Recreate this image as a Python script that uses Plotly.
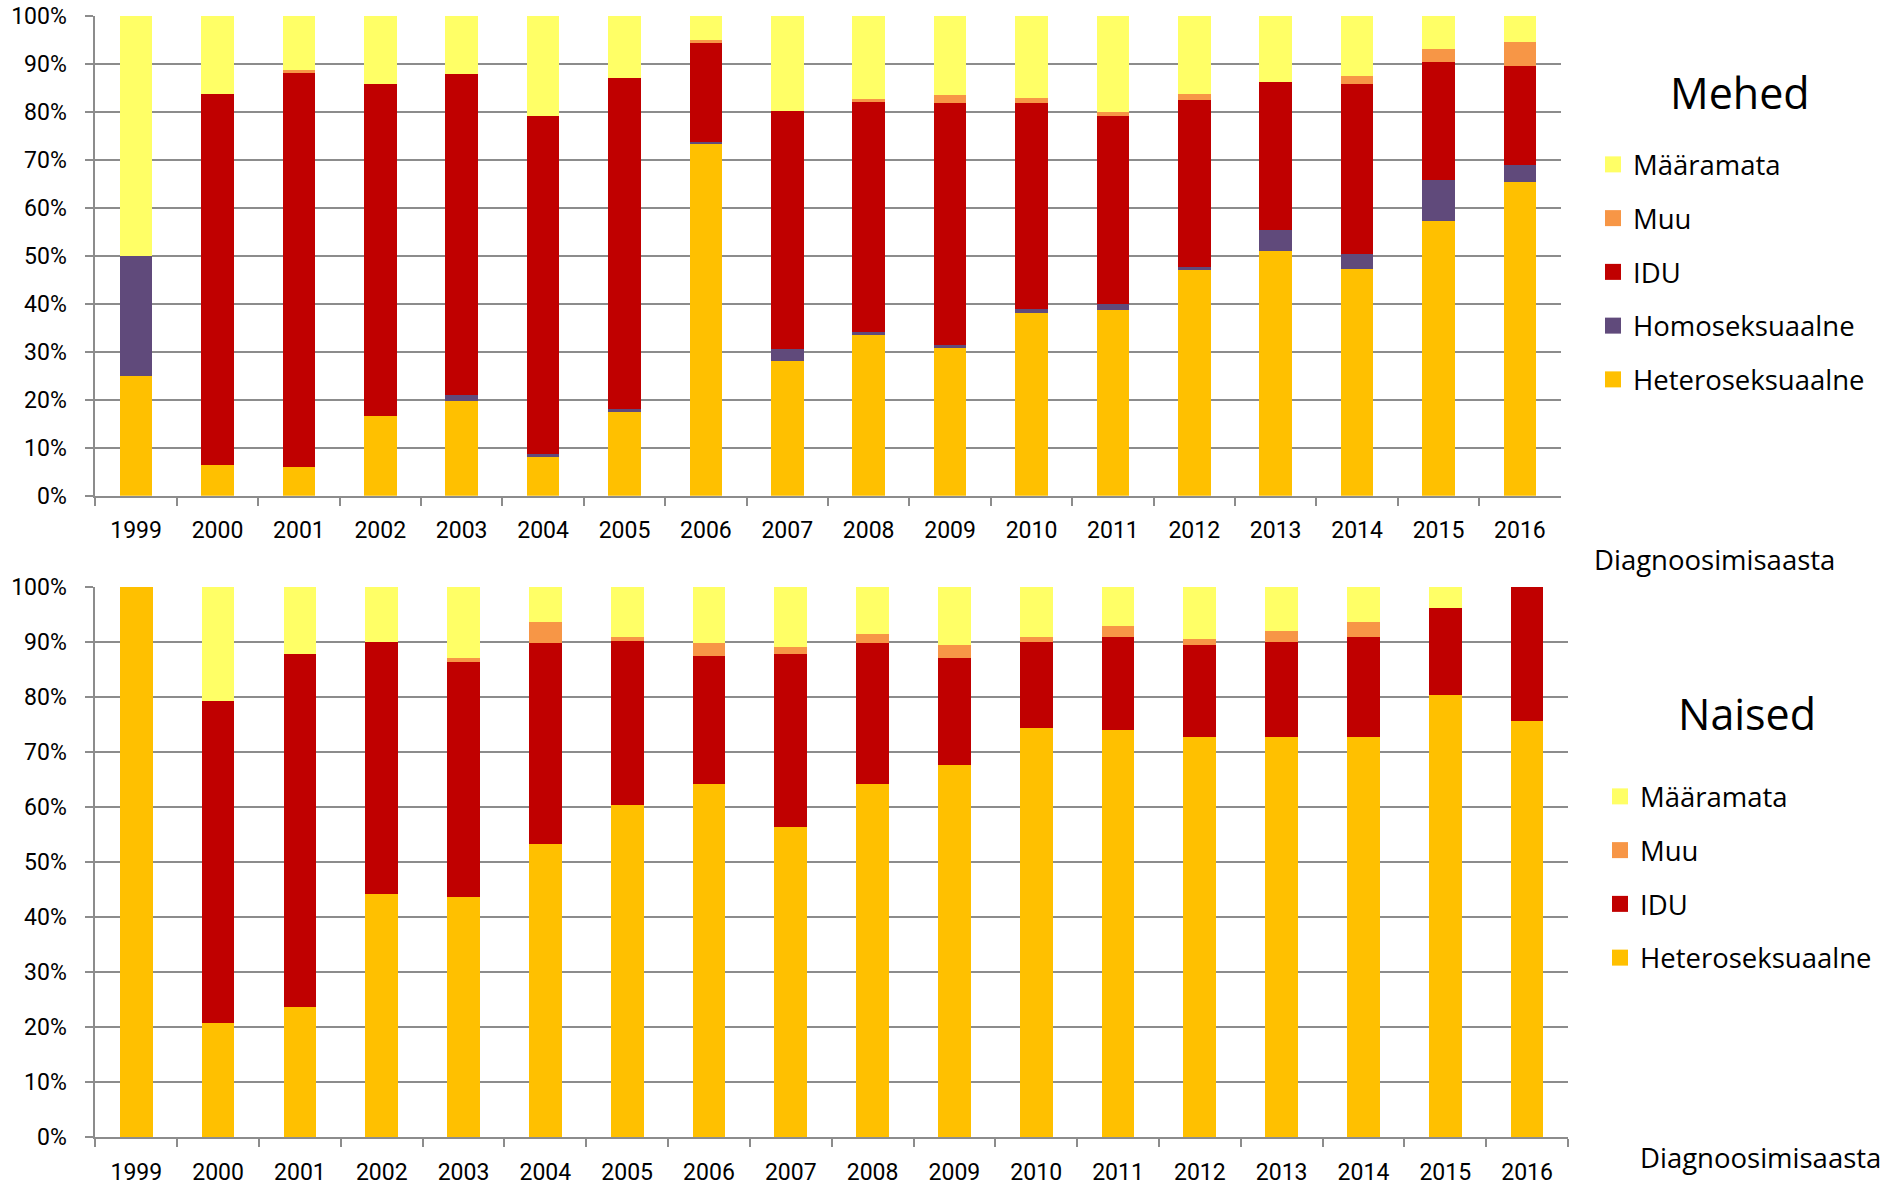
import plotly.graph_objects as go

W, H = 1889, 1187

years = [str(y) for y in range(1999, 2017)]

# Mehed (men), percent of cases
hetero_m = [25.0, 6.3, 6.0, 16.7, 19.7, 8.3, 17.4, 73.4, 28.1, 33.5, 30.8, 38.1, 38.7, 47.0, 51.0, 47.2, 57.2, 65.4]
homo_m = [25.0, 0, 0, 0, 1.2, 0.4, 0.6, 0.2, 2.4, 0.5, 0.6, 0.7, 1.2, 0.6, 4.3, 3.1, 8.5, 3.5]
idu_m = [0, 77.3, 82.3, 69.1, 66.9, 70.4, 69.1, 20.8, 49.6, 48.1, 50.4, 43.0, 39.3, 34.8, 30.9, 35.5, 24.6, 20.6]
muu_m = [0, 0, 0.4, 0, 0, 0, 0, 0.5, 0, 0.6, 1.7, 1.0, 0.7, 1.3, 0, 1.6, 2.7, 5.1]
maar_m = [50.0, 16.4, 11.3, 14.2, 12.2, 20.9, 12.9, 5.1, 19.9, 17.3, 16.5, 17.2, 20.1, 16.3, 13.8, 12.6, 7.0, 5.4]

# Naised (women), percent of cases
hetero_n = [100, 20.7, 23.6, 44.1, 43.6, 53.3, 60.3, 64.1, 56.4, 64.1, 67.5, 74.3, 73.9, 72.6, 72.7, 72.7, 80.3, 75.6]
idu_n = [0, 58.5, 64.2, 45.9, 42.6, 36.5, 29.8, 23.3, 31.3, 25.6, 19.6, 15.6, 17.0, 16.7, 17.2, 18.1, 15.8, 24.4]
muu_n = [0, 0, 0, 0, 0.9, 3.7, 0.7, 2.4, 1.3, 1.7, 2.3, 0.9, 1.9, 1.2, 2.0, 2.8, 0, 0]
maar_n = [0, 20.8, 12.2, 10.0, 12.9, 6.5, 9.2, 10.2, 11.0, 8.6, 10.6, 9.2, 7.2, 9.5, 8.1, 6.4, 3.9, 0]

C_HET = "#FFC000"
C_HOM = "#604A7B"
C_IDU = "#C00000"
C_MUU = "#F79646"
C_MAA = "#FFFF66"

fig = go.Figure()

def add(name, vals, color, xa, ya, leg, grp, rank):
    fig.add_trace(go.Bar(
        x=years, y=vals, name=name, marker=dict(color=color, line=dict(width=0)),
        xaxis=xa, yaxis=ya, showlegend=False, legendgroup=grp,
    ))
    # legend entry with a larger square symbol
    fig.add_trace(go.Scatter(
        x=[None], y=[None], mode="markers", name=name,
        marker=dict(symbol="square", size=18, color=color, line=dict(width=0)),
        xaxis=xa, yaxis=ya, legend=leg, legendgroup=grp, legendrank=rank,
        hoverinfo="skip",
    ))

add("Heteroseksuaalne", hetero_m, C_HET, "x", "y", "legend", "m1", 5)
add("Homoseksuaalne", homo_m, C_HOM, "x", "y", "legend", "m2", 4)
add("IDU", idu_m, C_IDU, "x", "y", "legend", "m3", 3)
add("Muu", muu_m, C_MUU, "x", "y", "legend", "m4", 2)
add("Määramata", maar_m, C_MAA, "x", "y", "legend", "m5", 1)

add("Heteroseksuaalne", hetero_n, C_HET, "x2", "y2", "legend2", "n1", 5)
add("IDU", idu_n, C_IDU, "x2", "y2", "legend2", "n3", 3)
add("Muu", muu_n, C_MUU, "x2", "y2", "legend2", "n4", 2)
add("Määramata", maar_n, C_MAA, "x2", "y2", "legend2", "n5", 1)

GRID = "#8c8c8c"
TICKFONT = dict(family="Roboto", size=23, color="#000000")

def px_x(p):
    return p / W

def px_y(p):
    return 1 - p / H

xcommon = dict(
    type="category", tickson="boundaries", ticks="outside", ticklen=8, tickwidth=2,
    tickcolor=GRID, showline=True, linecolor=GRID, linewidth=2, showgrid=False,
    tickfont=TICKFONT, ticklabelstandoff=13, fixedrange=True,
)
ycommon = dict(
    range=[0, 100], tick0=0, dtick=10, ticksuffix="%", ticks="outside", ticklen=8,
    tickwidth=2, tickcolor=GRID, showline=True, linecolor=GRID, linewidth=2,
    showgrid=True, gridcolor=GRID, gridwidth=2, zeroline=False, tickfont=TICKFONT,
    ticklabelstandoff=14, ticklabeloverflow="allow", fixedrange=True,
)

legcommon = dict(
    font=dict(family="Open Sans", size=27.5, color="#000000"),
    traceorder="grouped", tracegroupgap=15, xanchor="left", yanchor="top",
    bgcolor="rgba(0,0,0,0)", itemclick=False, itemdoubleclick=False,
)

ann_font_big = dict(family="Open Sans", size=43, color="#000000")
ann_font_axis = dict(family="Open Sans", size=27.5, color="#000000")

fig.update_layout(
    width=W, height=H, margin=dict(l=0, r=0, t=0, b=0, autoexpand=False),
    paper_bgcolor="white", plot_bgcolor="white",
    barmode="stack", bargap=0.6,
    xaxis=dict(domain=[px_x(95.4), px_x(1560.6)], anchor="y", **xcommon),
    yaxis=dict(domain=[px_y(495.7), px_y(15.7)], anchor="x", **ycommon),
    xaxis2=dict(domain=[px_x(95.4), px_x(1568)], anchor="y2", **xcommon),
    yaxis2=dict(domain=[px_y(1137), px_y(586.5)], anchor="x2", **ycommon),
    legend=dict(x=px_x(1593), y=px_y(140), **legcommon),
    legend2=dict(x=px_x(1600), y=px_y(772), **legcommon),
    showlegend=True,
    annotations=[
        dict(text="Mehed", x=px_x(1740), y=px_y(92.6), xref="paper", yref="paper",
             xanchor="center", yanchor="middle", showarrow=False, font=ann_font_big),
        dict(text="Naised", x=px_x(1747), y=px_y(713.7), xref="paper", yref="paper",
             xanchor="center", yanchor="middle", showarrow=False, font=ann_font_big),
        dict(text="Diagnoosimisaasta", x=px_x(1714), y=px_y(559), xref="paper", yref="paper",
             xanchor="center", yanchor="middle", showarrow=False, font=ann_font_axis),
        dict(text="Diagnoosimisaasta", x=px_x(1760), y=px_y(1157.5), xref="paper", yref="paper",
             xanchor="center", yanchor="middle", showarrow=False, font=ann_font_axis),
    ],
)

fig.write_html(
    "out.html",
    config={"displayModeBar": False},
    post_script="document.body.style.margin='0';",
)
